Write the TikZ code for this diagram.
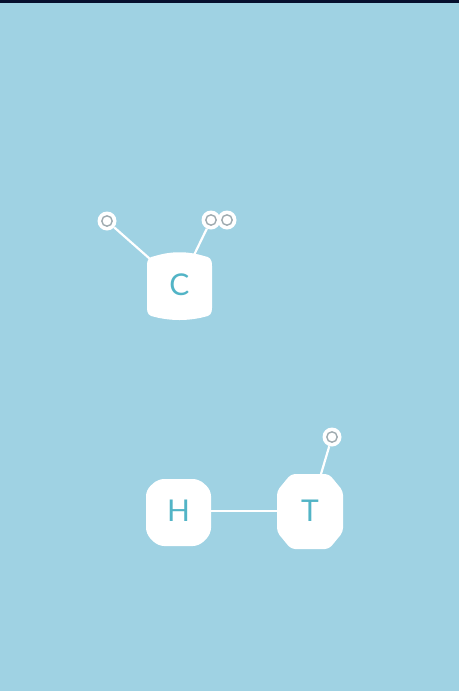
\documentclass[tikz,border=0pt]{standalone}
\usepackage{fontspec}
\setmainfont{Lato}
\definecolor{bg}{HTML}{9FD2E3}
\definecolor{band}{HTML}{06102E}
\definecolor{letter}{HTML}{52B4C6}
\definecolor{ringc}{HTML}{9FABB0}
\begin{document}
\begin{tikzpicture}[x=1pt,y=-1pt,
  link/.style={draw=white,line width=2.2pt},
  blob/.style={fill=white},
  atom/.style={circle,fill=white,minimum size=19pt,inner sep=0pt,
    path picture={\draw[ringc,line width=1.4pt] (path picture bounding box.center) circle (5.2pt);}},
  lbl/.style={text=letter,font=\fontsize{30}{30}\selectfont,inner sep=0pt}]
\useasboundingbox (0,0) rectangle (459,691);
\fill[bg] (0,0) rectangle (459,691);
\fill[band] (0,0) rectangle (459,3);
% centers
\coordinate (c) at (179.5,285);
\coordinate (h) at (178.5,511);
\coordinate (t) at (310,511);
% atoms
\node[atom] (o1) at (107,221) {};
\node[atom] (o2) at (211,220) {};
\node[atom] (o3) at (227,220) {};
\node[atom] (o4) at (332,437) {};
% connectors
\draw[link] (o1) -- (c);
\draw[link] (o2) -- (c);
\draw[link] (o4) -- (t);
\draw[link] (h) -- (t);
% shapes
\fill[blob] (147,266) .. controls (147,259) and (149,257) .. (155,256)
  .. controls (171,251) and (188,251) .. (204,256)
  .. controls (210,257) and (212,259) .. (212,266) -- (212,308)
  .. controls (212,314) and (210,316) .. (204,317)
  .. controls (188,321) and (171,321) .. (155,317)
  .. controls (149,316) and (147,314) .. (147,308) -- cycle;
\fill[blob,rounded corners=6pt] (158,479) -- (199,479) -- (211,490) -- (211,534)
  -- (199,546) -- (158,546) -- (146,534) -- (146,490) -- cycle;
\fill[blob,rounded corners=4pt] (291,474) -- (329,474) -- (343,491) -- (343,532)
  -- (329,549) -- (291,549) -- (277,532) -- (277,491) -- cycle;
% labels
\node[lbl] (cl) at (c) {C};
\node[lbl] (hl) at (h) {H};
\node[lbl] (tl) at (t) {T};
\end{tikzpicture}
\end{document}
